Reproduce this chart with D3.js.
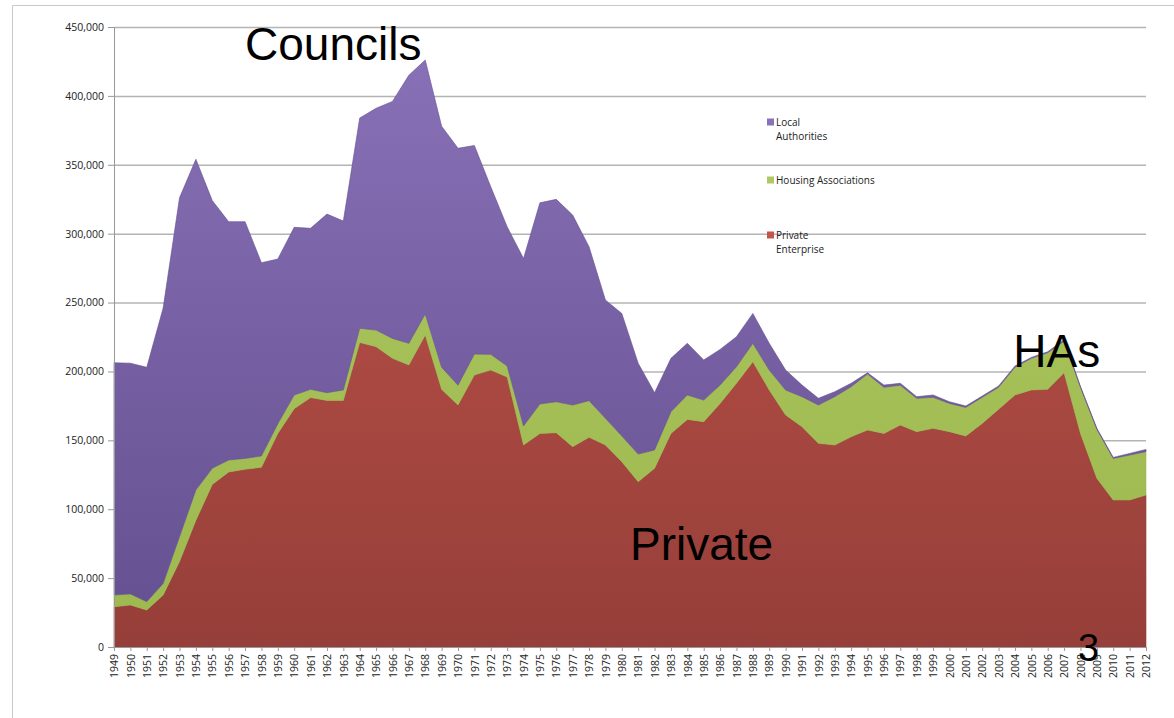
<!DOCTYPE html>
<html>
<head>
<meta charset="utf-8">
<script src="https://cdn.jsdelivr.net/npm/d3@7"></script>
<style>
  html, body { margin: 0; padding: 0; background: #fff; }
  svg { display: block; }
</style>
</head>
<body>
<svg id="chart" width="1174" height="718"></svg>
<script>
const years = d3.range(1949, 2013);
const privateEnterprise = [
  29200, 30500, 26800, 37700, 62000, 92000, 118000, 127000, 129000, 130500,
  155000, 173000, 181000, 179000, 179000, 221000, 218000, 209500, 204700, 226400,
  187000, 175600, 197400, 201000, 196000, 146600, 155000, 155500, 145400, 152200,
  146600, 134500, 120000, 129700, 155000, 165200, 163500, 176800, 191400, 207000,
  186500, 168400, 159900, 147800, 146600, 152600, 157500, 155000, 161100, 156300,
  158700, 156300, 153100, 162300, 172500, 182900, 186500, 187000, 199000, 155000,
  122400, 106700, 106700, 110300
];
const housingAssociations = [
  8500, 8000, 6100, 8300, 18000, 22000, 11700, 8700, 7900, 8100,
  7000, 9900, 6000, 5600, 7500, 10300, 12000, 14500, 15700, 15300,
  16000, 14400, 15200, 11400, 8000, 13800, 21400, 22500, 30200, 26600,
  19400, 18600, 20000, 13300, 15800, 17700, 15700, 13300, 12000, 13400,
  14500, 18100, 21800, 27800, 35100, 36300, 40600, 33500, 28900, 24200,
  22500, 20500, 20800, 18900, 16000, 20100, 23000, 26600, 23000, 33500,
  35600, 30200, 32600, 31500
];
const localAuthorities = [
  168600, 167500, 170100, 200000, 246000, 240000, 194300, 173000, 171800, 140300,
  119600, 121700, 116900, 129600, 122700, 152600, 161000, 172000, 194600, 184300,
  175000, 172000, 151400, 121600, 101000, 121600, 146000, 146900, 137900, 111700,
  85800, 89000, 65900, 41600, 38700, 37500, 29100, 25900, 21800, 21700,
  19400, 14500, 8400, 4900, 3600, 2500, 900, 1600, 1400, 1200,
  1700, 1200, 1000, 900, 900, 900, 700, 700, 1000, 500,
  700, 700, 1200, 1600
];
const seriesNames = ["Private Enterprise", "Housing Associations", "Local Authorities"];
const yTicks = [0, 50000, 100000, 150000, 200000, 250000, 300000, 350000, 400000, 450000];
const annotations = [
  { text: "Councils", year: 1957.0, value: 426000, size: 46 },
  { text: "Private", year: 1980.5, value: 63000, size: 46 },
  { text: "HAs", year: 2003.9, value: 203500, size: 46 },
  { text: "3", year: 2007.85, value: -10000, size: 38 }
];

const data = years.map((yr, i) => ({
  year: yr,
  "Private Enterprise": privateEnterprise[i],
  "Housing Associations": housingAssociations[i],
  "Local Authorities": localAuthorities[i]
}));

const svg = d3.select("#chart");
const mLeft = 114, mRight = 1146, mTop = 27, mBottom = 647;

const x = d3.scalePoint().domain(years).range([mLeft, mRight]);
const y = d3.scaleLinear().domain([0, 450000]).range([mBottom, mTop]);

// frame
svg.append("path").attr("d", "M12.5,718 L12.5,5.5 L1174,5.5")
  .attr("fill", "none").attr("stroke", "#c8c8c8").attr("stroke-width", 1);

// gradients
const defs = svg.append("defs");
const colors = {
  "Local Authorities": { top: "#8a72b8", bot: "#634f8f", id: "gLA" },
  "Housing Associations": { top: "#afc862", bot: "#9cb84e", id: "gHA" },
  "Private Enterprise": { top: "#c2564c", bot: "#963e39", id: "gPE" }
};
Object.values(colors).forEach(c => {
  const g = defs.append("linearGradient").attr("id", c.id)
    .attr("gradientUnits", "userSpaceOnUse")
    .attr("x1", 0).attr("x2", 0).attr("y1", mTop).attr("y2", mBottom);
  g.append("stop").attr("offset", "0%").attr("stop-color", c.top);
  g.append("stop").attr("offset", "100%").attr("stop-color", c.bot);
});

// gridlines
svg.append("g").selectAll("line").data(yTicks.filter(d => d > 0)).join("line")
  .attr("x1", mLeft).attr("x2", mRight)
  .attr("y1", d => y(d) + 0.5).attr("y2", d => y(d) + 0.5)
  .attr("stroke", "#b4b4b4").attr("stroke-width", 1.5);

// stacked areas
const stack = d3.stack().keys(seriesNames);
const layers = stack(data);
const area = d3.area()
  .x(d => x(d.data.year))
  .y0(d => y(d[0]))
  .y1(d => y(d[1]));

svg.append("g").selectAll("path").data(layers).join("path")
  .attr("d", area)
  .attr("fill", d => "url(#" + colors[d.key].id + ")")
  .attr("stroke", d => colors[d.key].bot)
  .attr("stroke-width", 0.6);

// y axis
const yAxis = d3.axisLeft(y).tickValues(yTicks).tickSize(6).tickPadding(4)
  .tickFormat(d3.format(","));
const ya = svg.append("g").attr("transform", `translate(${mLeft},0)`).call(yAxis);
ya.select(".domain").attr("stroke", "#999");
ya.selectAll(".tick line").attr("stroke", "#999");
ya.selectAll("text").attr("font-family", "'Open Sans', sans-serif")
  .attr("font-size", 10.5).attr("fill", "#222");

// x axis
const xAxis = d3.axisBottom(x).tickSize(4).tickPadding(3);
const xa = svg.append("g").attr("transform", `translate(0,${mBottom})`).call(xAxis);
xa.select(".domain").attr("stroke", "#999");
xa.selectAll(".tick line").attr("stroke", "#999");
xa.selectAll("text")
  .attr("font-family", "'Open Sans', sans-serif").attr("font-size", 10.5).attr("fill", "#222")
  .attr("transform", "rotate(-90)")
  .attr("text-anchor", "end")
  .attr("x", -7).attr("y", 0).attr("dy", "0.35em");

// legend
const legendItems = [
  { key: "Local Authorities", lines: ["Local", "Authorities"], ly: 122 },
  { key: "Housing Associations", lines: ["Housing Associations"], ly: 180 },
  { key: "Private Enterprise", lines: ["Private", "Enterprise"], ly: 235 }
];
const lg = svg.append("g");
legendItems.forEach(it => {
  lg.append("rect").attr("x", 767).attr("y", it.ly - 3.5).attr("width", 7).attr("height", 7)
    .attr("fill", colors[it.key].top);
  it.lines.forEach((t, j) => {
    lg.append("text").attr("x", 776).attr("y", it.ly + 4 + j * 14)
      .attr("font-family", "'Open Sans', sans-serif").attr("font-size", 10)
      .attr("fill", "#222").text(t);
  });
});

// annotations
svg.append("g").selectAll("text").data(annotations).join("text")
  .attr("x", d => mLeft + (d.year - 1949) * x.step())
  .attr("y", d => y(d.value))
  .attr("font-family", "'Liberation Sans', Arial, sans-serif")
  .attr("font-size", d => d.size)
  .attr("fill", "#000")
  .text(d => d.text);
</script>
</body>
</html>
